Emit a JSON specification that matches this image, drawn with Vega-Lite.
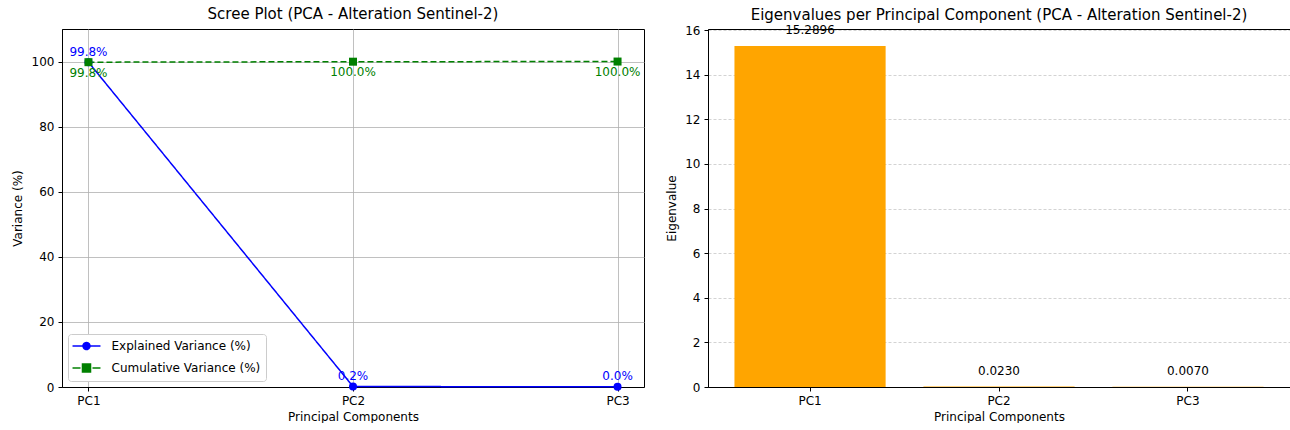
{
  "$schema": "https://vega.github.io/schema/vega-lite/v6.json",
  "padding": {"left": 10, "top": 6, "right": 0, "bottom": 0},
  "spacing": 20,
  "config": {
    "font": "DejaVu Sans",
    "view": {"stroke": "black", "strokeWidth": 1},
    "title": {"fontSize": 15, "fontWeight": "normal", "color": "black", "offset": 7},
    "axis": {
      "labelFontSize": 12, "titleFontSize": 12, "titleFontWeight": "normal",
      "labelColor": "black", "titleColor": "black", "tickColor": "black",
      "domain": true, "domainColor": "black", "domainWidth": 1, "tickSize": 4, "labelPadding": 4,
      "gridColor": "#b0b0b0", "gridWidth": 0.8
    }
  },
  "datasets": {
    "scree": [
      {"pc": "PC1", "series": "Explained Variance (%)", "value": 99.804, "label": "99.8%"},
      {"pc": "PC2", "series": "Explained Variance (%)", "value": 0.150, "label": "0.2%"},
      {"pc": "PC3", "series": "Explained Variance (%)", "value": 0.046, "label": "0.0%"},
      {"pc": "PC1", "series": "Cumulative Variance (%)", "value": 99.804, "label": "99.8%"},
      {"pc": "PC2", "series": "Cumulative Variance (%)", "value": 99.954, "label": "100.0%"},
      {"pc": "PC3", "series": "Cumulative Variance (%)", "value": 100.0, "label": "100.0%"}
    ],
    "eig": [
      {"pc": "PC1", "eigenvalue": 15.2896},
      {"pc": "PC2", "eigenvalue": 0.0230},
      {"pc": "PC3", "eigenvalue": 0.0070}
    ]
  },
  "resolve": {"scale": {"color": "independent"}, "legend": {"color": "independent"}},
  "hconcat": [
    {
      "width": 582,
      "height": 358,
      "title": "Scree Plot (PCA - Alteration Sentinel-2)",
      "data": {"name": "scree"},
      "encoding": {
        "x": {"field": "pc", "type": "nominal", "scale": {"type": "point", "padding": 0.1},
              "axis": {"title": "Principal Components", "labelAngle": 0, "grid": true, "titlePadding": 5}},
        "y": {"field": "value", "type": "quantitative", "scale": {"domain": [0, 110], "nice": false},
              "axis": {"title": "Variance (%)", "values": [0, 20, 40, 60, 80, 100], "grid": true, "titlePadding": 7}}
      },
      "layer": [
        {
          "mark": {"type": "line", "strokeWidth": 1.5},
          "encoding": {
            "color": {
              "field": "series", "type": "nominal",
              "scale": {"domain": ["Explained Variance (%)", "Cumulative Variance (%)"], "range": ["#0000ff", "#008000"]},
              "legend": {
                "title": null, "orient": "bottom-left", "offset": 6,
                "fillColor": "white", "strokeColor": "#cccccc", "cornerRadius": 3, "padding": 5,
                "labelFontSize": 12, "labelColor": "black", "symbolSize": 144, "symbolStrokeWidth": 1.5,
                "symbolOffset": 6.5, "labelOffset": 18, "rowPadding": 7, "symbolType": "circle",
                "encode": {"symbols": {"update": {
                  "shape": {"signal": "datum.value === 'Explained Variance (%)' ? 'M-2.33,0L2.33,0M0.58,0A0.58,0.58 0 1,1 -0.58,0A0.58,0.58 0 1,1 0.58,0Z' : 'M-2.33,0L-1,0M1,0L2.33,0M-0.67,-0.67L0.67,-0.67L0.67,0.67L-0.67,0.67Z'"},
                  "fill": {"signal": "datum.value === 'Explained Variance (%)' ? '#0000ff' : '#008000'"},
                  "stroke": {"signal": "datum.value === 'Explained Variance (%)' ? '#0000ff' : '#008000'"},
                  "strokeDash": {"value": [1, 0]},
                  "opacity": {"value": 1}
                }}}
              }
            },
            "strokeDash": {
              "field": "series", "type": "nominal",
              "scale": {"domain": ["Explained Variance (%)", "Cumulative Variance (%)"], "range": [[1, 0], [6, 3]]},
              "legend": null
            }
          }
        },
        {
          "mark": {"type": "point", "filled": true, "opacity": 1, "size": 64},
          "encoding": {
            "color": {"field": "series", "type": "nominal"},
            "shape": {"field": "series", "type": "nominal",
                      "scale": {"domain": ["Explained Variance (%)", "Cumulative Variance (%)"], "range": ["circle", "square"]},
                      "legend": null}
          }
        },
        {
          "transform": [{"filter": "datum.series === 'Explained Variance (%)'"}],
          "mark": {"type": "text", "dy": -10.5, "fontSize": 12, "color": "#0000ff"},
          "encoding": {"text": {"field": "label", "type": "nominal"}}
        },
        {
          "transform": [{"filter": "datum.series === 'Cumulative Variance (%)'"}],
          "mark": {"type": "text", "dy": 10.5, "fontSize": 12, "color": "#008000"},
          "encoding": {"text": {"field": "label", "type": "nominal"}}
        }
      ]
    },
    {
      "width": 582,
      "height": 358,
      "title": {"text": "Eigenvalues per Principal Component (PCA - Alteration Sentinel-2)", "offset": 1.5},
      "data": {"name": "eig"},
      "encoding": {
        "x": {"field": "pc", "type": "nominal", "scale": {"type": "band", "paddingInner": 0.2, "paddingOuter": 0.14},
              "axis": {"title": "Principal Components", "labelAngle": 0, "grid": false, "titlePadding": 5}},
        "y": {"field": "eigenvalue", "type": "quantitative", "scale": {"domain": [0, 16.05], "nice": false},
              "axis": {"title": "Eigenvalue", "values": [0, 2, 4, 6, 8, 10, 12, 14, 16], "grid": true,
                       "gridDash": [3, 2], "gridOpacity": 0.7, "titlePadding": 6}}
      },
      "layer": [
        {"mark": {"type": "bar", "color": "#ffa500"}},
        {
          "mark": {"type": "text", "dy": -15.5, "fontSize": 12, "color": "black"},
          "encoding": {"text": {"field": "eigenvalue", "type": "quantitative", "format": ".4f"}}
        }
      ]
    }
  ]
}
